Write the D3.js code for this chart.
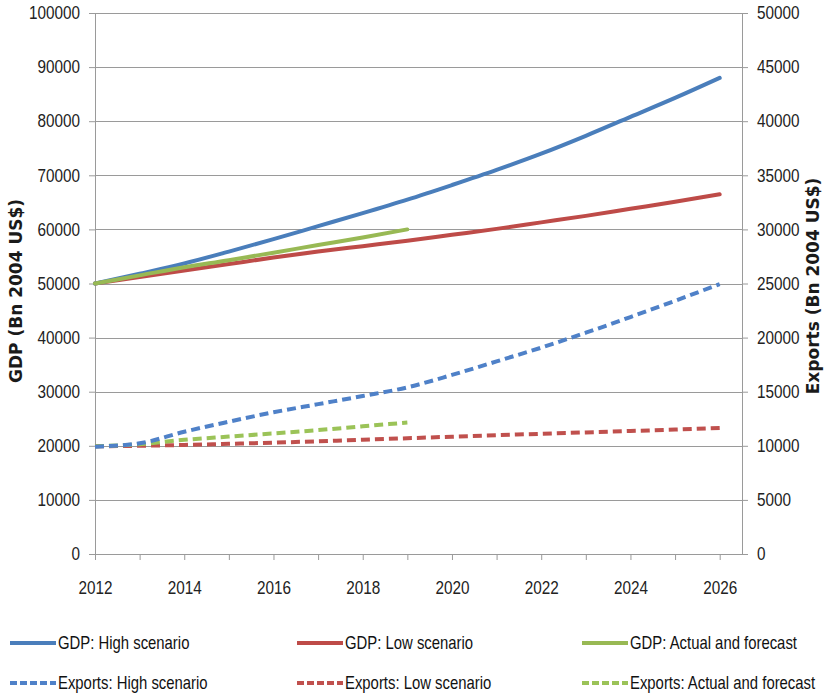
<!DOCTYPE html>
<html>
<head>
<meta charset="utf-8">
<script src="https://cdn.jsdelivr.net/npm/d3@7/dist/d3.min.js"></script>
<style>
  html, body { margin: 0; padding: 0; background: #fff; }
  svg { display: block; }
</style>
</head>
<body>
<svg id="chart" width="825" height="699"></svg>
<script>
// Years on the category axis
const years = [2012, 2013, 2014, 2015, 2016, 2017, 2018, 2019, 2020, 2021, 2022, 2023, 2024, 2025, 2026];
const yearTicks = [2012, 2014, 2016, 2018, 2020, 2022, 2024, 2026];

// GDP (Bn 2004 US$), left axis
const gdpHigh   = [50000, 51800, 53700, 55900, 58200, 60600, 63000, 65500, 68200, 71000, 74000, 77300, 80800, 84300, 88000];
const gdpLow    = [50000, 51200, 52400, 53600, 54800, 55900, 56900, 57900, 59000, 60100, 61300, 62500, 63800, 65100, 66500];
const gdpActual = [50000, 51500, 53000, 54300, 55700, 57100, 58500, 60000];

// Exports (Bn 2004 US$), right axis
const expHigh   = [9920, 10230, 11300, 12230, 13100, 13850, 14600, 15400, 16550, 17800, 19070, 20450, 21900, 23400, 24950];
const expLow    = [9950, 10000, 10080, 10180, 10290, 10420, 10560, 10700, 10840, 10980, 11110, 11240, 11370, 11500, 11650];
const expActual = [9950, 10150, 10550, 10850, 11150, 11450, 11800, 12150];

const leftTicks  = [0, 10000, 20000, 30000, 40000, 50000, 60000, 70000, 80000, 90000, 100000];
const rightTicks = [0, 5000, 10000, 15000, 20000, 25000, 30000, 35000, 40000, 45000, 50000];

const seriesNames = [
  "GDP: High scenario", "GDP: Low scenario", "GDP: Actual and forecast",
  "Exports: High scenario", "Exports: Low scenario", "Exports: Actual and forecast"
];

const blue = "#4a7ebb", red = "#be4b48", green = "#98b954";
const blueD = "#4f81c8", redD = "#c0504d", greenD = "#9bc358";

const svg = d3.select("#chart");
const sans = "'Liberation Sans', Arial, sans-serif";
const squeeze = 0.85;   // horizontal condensing for the narrow label face

const plotLeft = 95, plotRight = 742, plotTop = 13, plotBottom = 554;

const x = d3.scaleLinear().domain([2012, 2026.5]).range([plotLeft, plotRight]);
const yL = d3.scaleLinear().domain([0, 100000]).range([plotBottom, plotTop]);
const yR = d3.scaleLinear().domain([0, 50000]).range([plotBottom, plotTop]);

const gridColor = "#9a9a9a";

// horizontal gridlines
svg.append("g").selectAll("line").data(leftTicks.filter(d => d > 0)).join("line")
  .attr("x1", plotLeft).attr("x2", plotRight)
  .attr("y1", d => Math.round(yL(d)) + 0.5).attr("y2", d => Math.round(yL(d)) + 0.5)
  .attr("stroke", gridColor).attr("stroke-width", 1);

// left axis
const axL = svg.append("g").attr("transform", `translate(${plotLeft},0)`)
  .call(d3.axisLeft(yL).tickValues(leftTicks).tickSize(6).tickPadding(9).tickFormat(d3.format("d")));
// right axis
const axR = svg.append("g").attr("transform", `translate(${plotRight},0)`)
  .call(d3.axisRight(yR).tickValues(rightTicks).tickSize(6).tickPadding(9).tickFormat(d3.format("d")));
// bottom axis
const axB = svg.append("g").attr("transform", `translate(0,${plotBottom})`)
  .call(d3.axisBottom(x).tickValues(years).tickSize(6).tickPadding(21)
    .tickFormat(d => yearTicks.includes(d) ? String(d) : ""));

[axL, axR, axB].forEach(a => {
  a.select(".domain").attr("stroke", gridColor);
  a.selectAll(".tick line").attr("stroke", gridColor);
  a.selectAll(".tick text").attr("fill", "#222").attr("font-family", sans).attr("font-size", 18)
    .attr("transform", `scale(${squeeze},1)`);
});
axL.selectAll(".tick text").attr("x", -15 / squeeze);
axR.selectAll(".tick text").attr("x", 15 / squeeze);

// bottom axis runs to the right edge without outer ticks
axB.select(".domain").attr("d", `M${plotLeft},0.5H${plotRight}`);
axL.select(".domain").attr("d", `M0.5,${plotTop}V${plotBottom}`);
axR.select(".domain").attr("d", `M0.5,${plotTop}V${plotBottom}`);

// axis titles
svg.append("text")
  .attr("transform", `translate(22,291) rotate(-90)`)
  .attr("text-anchor", "middle")
  .attr("font-family", "'DejaVu Sans', sans-serif")
  .attr("font-weight", "bold").attr("font-size", 17).attr("fill", "#1a1a1a")
  .text("GDP (Bn 2004 US$)");
svg.append("text")
  .attr("transform", `translate(819,286) rotate(-90)`)
  .attr("text-anchor", "middle")
  .attr("font-family", "'DejaVu Sans', sans-serif")
  .attr("font-weight", "bold").attr("font-size", 17).attr("fill", "#1a1a1a")
  .text("Exports (Bn 2004 US$)");

// series lines
const lineL = d3.line().x((d, i) => x(years[i])).y(d => yL(d)).curve(d3.curveMonotoneX);
const lineR = d3.line().x((d, i) => x(years[i])).y(d => yR(d)).curve(d3.curveMonotoneX);

const series = [
  { data: expLow,    line: lineR, color: redD,   dash: "9,5" },
  { data: expActual, line: lineR, color: greenD, dash: "9,5" },
  { data: expHigh,   line: lineR, color: blueD,  dash: "9,5" },
  { data: gdpLow,    line: lineL, color: red,    dash: null },
  { data: gdpHigh,   line: lineL, color: blue,   dash: null },
  { data: gdpActual, line: lineL, color: green,  dash: null }
];
svg.append("g").selectAll("path").data(series).join("path")
  .attr("d", s => s.line(s.data))
  .attr("fill", "none")
  .attr("stroke", s => s.color)
  .attr("stroke-width", 4)
  .attr("stroke-dasharray", s => s.dash)
  .attr("stroke-linecap", s => s.dash ? "butt" : "round")
  .attr("stroke-linejoin", "round");

// legend
const legendItems = [
  { name: seriesNames[0], color: blue,   dash: null, col: 0, row: 0 },
  { name: seriesNames[1], color: red,    dash: null, col: 1, row: 0 },
  { name: seriesNames[2], color: green,  dash: null, col: 2, row: 0 },
  { name: seriesNames[3], color: blueD,  dash: "7,3", col: 0, row: 1 },
  { name: seriesNames[4], color: redD,   dash: "7,3", col: 1, row: 1 },
  { name: seriesNames[5], color: greenD, dash: "7,3", col: 2, row: 1 }
];
const colX = [10, 297, 582];
const rowY = [643, 683];
const lg = svg.append("g").selectAll("g").data(legendItems).join("g")
  .attr("transform", d => `translate(${colX[d.col]},${rowY[d.row]})`);
lg.append("line")
  .attr("x1", 0).attr("x2", 46).attr("y1", 0).attr("y2", 0)
  .attr("stroke", d => d.color).attr("stroke-width", 4)
  .attr("stroke-dasharray", d => d.dash);
lg.append("text")
  .attr("transform", `translate(48,0) scale(${squeeze},1)`)
  .attr("dy", "0.35em")
  .attr("font-family", sans).attr("font-size", 17.5).attr("fill", "#111")
  .text(d => d.name);
</script>
</body>
</html>
